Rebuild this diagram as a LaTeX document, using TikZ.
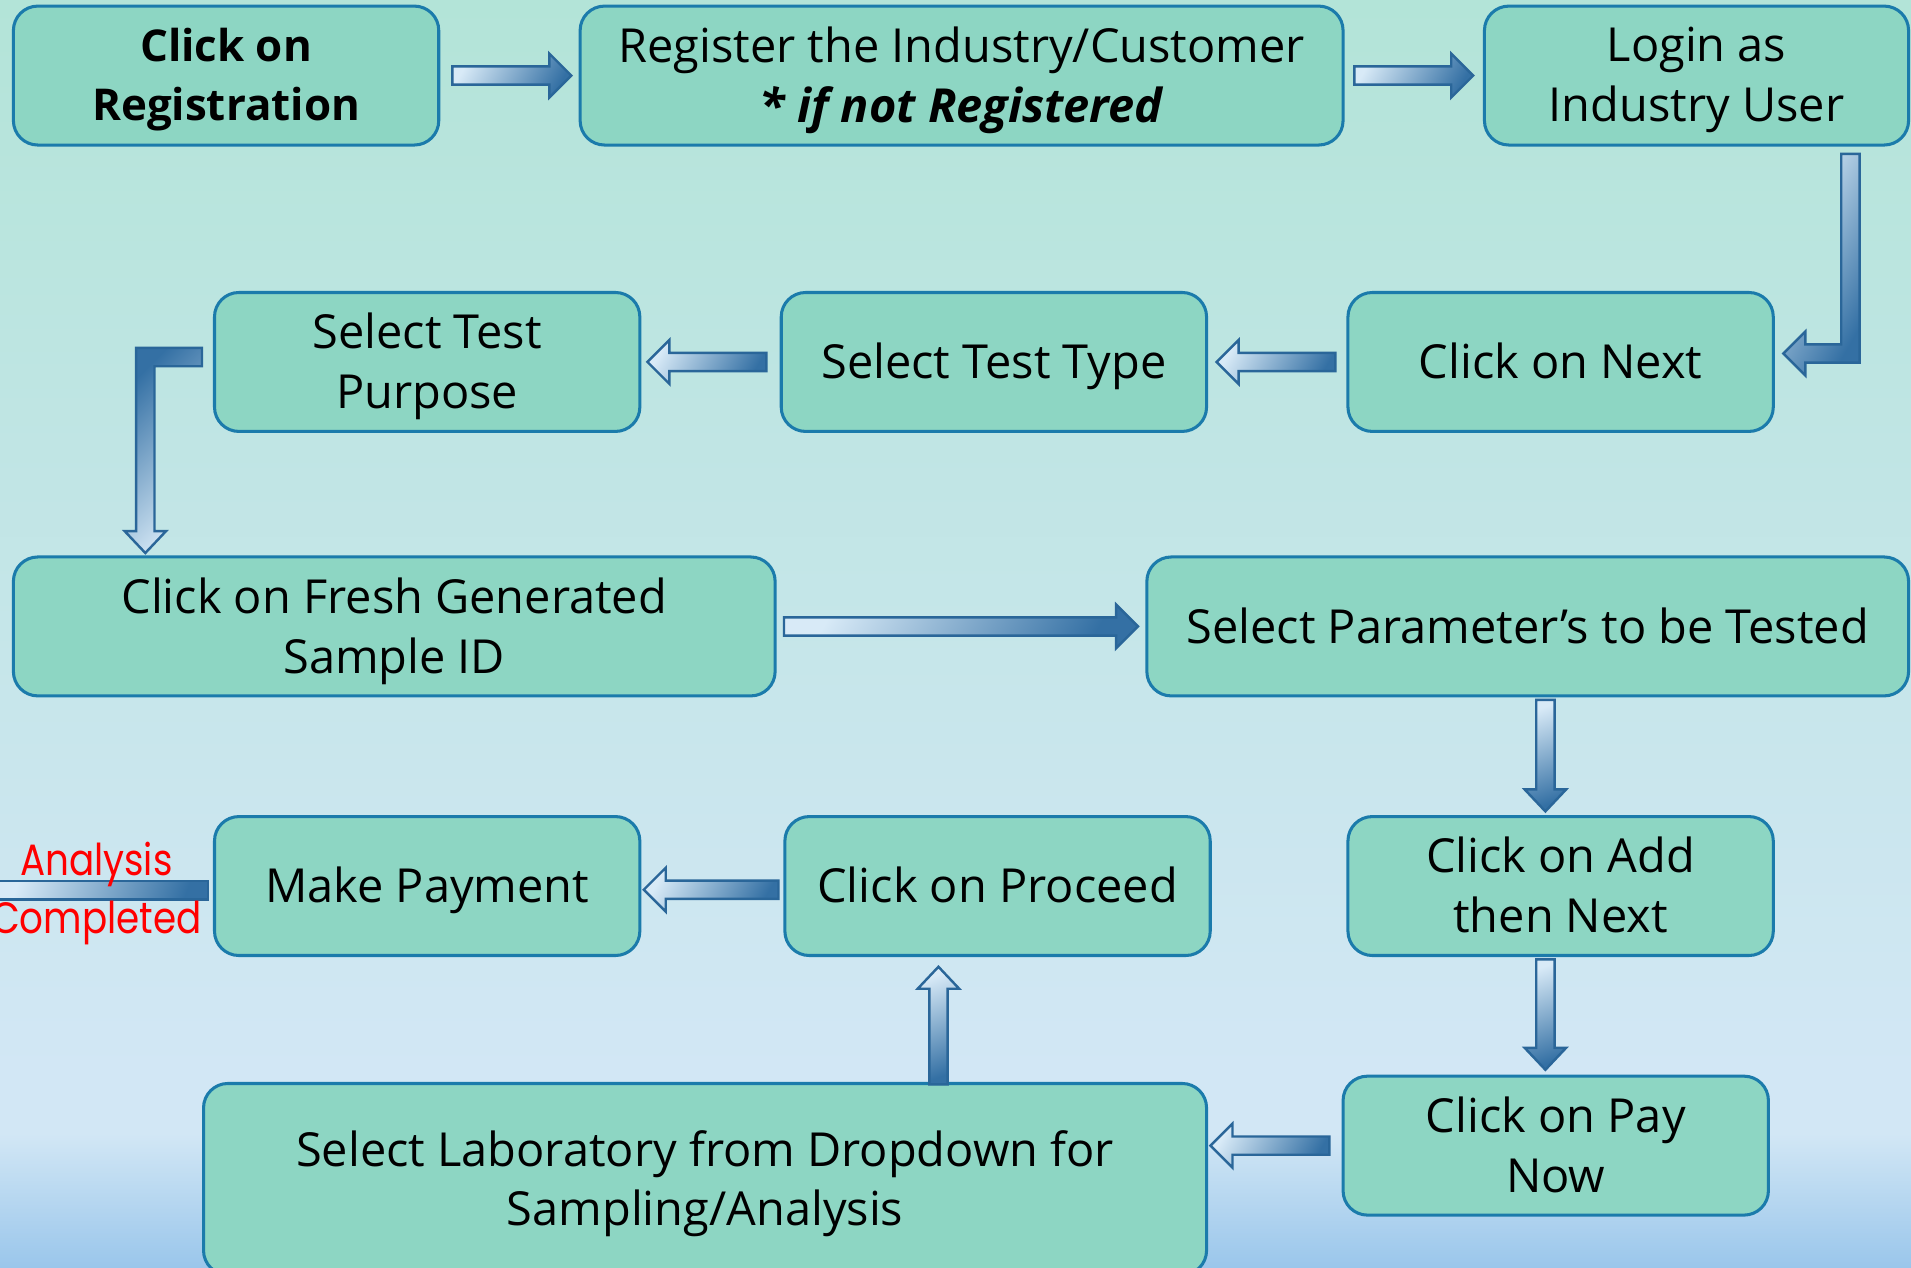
\documentclass[tikz,border=0pt]{standalone}
\usepackage{fontspec}
\setmainfont{Open Sans}
\newfontfamily\donefont{Poppins}[FakeStretch=0.85]
\usetikzlibrary{calc,positioning}

\definecolor{bgtop}{HTML}{B3E4D8}
\definecolor{bgmid}{HTML}{D2E7F5}
\definecolor{bgbot}{HTML}{9AC6EB}
\definecolor{boxfill}{HTML}{8DD6C3}
\definecolor{boxline}{HTML}{1B7BAB}
\definecolor{arrowlight}{HTML}{D8EAF7}
\definecolor{arrowdark}{HTML}{3470A4}
\definecolor{arrowline}{HTML}{2A6699}

\tikzset{
    stepbox/.style={draw=boxline, line width=2.5pt, fill=boxfill, rounded corners=20pt,
        align=center, inner sep=0pt, minimum width=349pt, minimum height=114pt,
        text depth=1.8pt, font=\fontsize{38.5}{49}\selectfont},
    blockarrow/.style={draw=arrowline, line width=2pt, top color=arrowlight, bottom color=arrowdark},
    donetext/.style={align=center, text=red, font=\donefont\fontsize{36}{48}\selectfont},
}

%% block arrows: #1 shading angle, #2 start, #3 tip
\newcommand{\rightblock}[3]{\path[blockarrow, shading angle=#1] let \p1=(#2), \p2=(#3) in
    (\x1,\y1+7.5pt) -- (\x2-18pt,\y1+7.5pt) -- (\x2-18pt,\y1+18pt) -- (\x2,\y1)
    -- (\x2-18pt,\y1-18pt) -- (\x2-18pt,\y1-7.5pt) -- (\x1,\y1-7.5pt) -- cycle;}
\newcommand{\leftblock}[3]{\path[blockarrow, shading angle=#1] let \p1=(#2), \p2=(#3) in
    (\x1,\y1+7.5pt) -- (\x2+18pt,\y1+7.5pt) -- (\x2+18pt,\y1+18pt) -- (\x2,\y1)
    -- (\x2+18pt,\y1-18pt) -- (\x2+18pt,\y1-7.5pt) -- (\x1,\y1-7.5pt) -- cycle;}
\newcommand{\downblock}[3]{\path[blockarrow, shading angle=#1] let \p1=(#2), \p2=(#3) in
    (\x1-7.5pt,\y1) -- (\x1-7.5pt,\y2+18pt) -- (\x1-17pt,\y2+18pt) -- (\x1,\y2)
    -- (\x1+17pt,\y2+18pt) -- (\x1+7.5pt,\y2+18pt) -- (\x1+7.5pt,\y1) -- cycle;}
\newcommand{\upblock}[3]{\path[blockarrow, shading angle=#1] let \p1=(#2), \p2=(#3) in
    (\x1-7.5pt,\y1) -- (\x1-7.5pt,\y2-18pt) -- (\x1-17pt,\y2-18pt) -- (\x1,\y2)
    -- (\x1+17pt,\y2-18pt) -- (\x1+7.5pt,\y2-18pt) -- (\x1+7.5pt,\y1) -- cycle;}

\begin{document}
\begin{tikzpicture}[x=1pt, y=-1pt]
    \useasboundingbox (0,0) rectangle (1568,1040);
    %% background
    \shade[top color=bgtop, bottom color=bgmid] (0,0) rectangle (1568,880);
    \fill[bgmid] (0,879) rectangle (1568,931);
    \shade[top color=bgmid, bottom color=bgbot] (0,930) rectangle (1568,1040);

    %% Row 1
    \node[stepbox, font=\bfseries\fontsize{36}{48}\selectfont] (reg) at (185.5,62) {Click on\\Registration};
    \node[stepbox, minimum width=626pt] (industry) at (789,62) {Register the Industry/Customer\\\textbf{\itshape * if not Registered}};
    \node[stepbox, minimum width=348pt] (login) at (1392,62) {Login as\\Industry User};
    %% Row 2
    \node[stepbox] (next) at (1280.5,297) {Click on Next};
    \node[stepbox] (testtype) at (815.5,297) {Select Test Type};
    \node[stepbox] (purpose) at (350.5,297) {Select Test\\Purpose};
    %% Row 3
    \node[stepbox, minimum width=625pt] (sample) at (323.5,514) {Click on Fresh Generated\\Sample ID};
    \node[stepbox, minimum width=625pt] (params) at (1253.5,514) {Select Parameter’s to be Tested};
    %% Row 4
    \node[stepbox] (addnext) at (1280.5,727) {Click on Add\\then Next};
    \node[stepbox] (proceed) at (818.5,727) {Click on Proceed};
    \node[stepbox] (payment) at (350.5,727) {Make Payment};
    %% Row 5
    \node[stepbox] (paynow) at (1276.5,940) {Click on Pay\\Now};
    \node[stepbox, minimum width=823pt, minimum height=157pt] (lab) at (578.5,967.5) {Select Laboratory from Dropdown for\\Sampling/Analysis};

    %% Connectors
    \rightblock{60}{$(reg.east)+(10,0)$}{$(industry.west)+(-6,0)$}
    \rightblock{60}{$(industry.east)+(8,0)$}{$(login.west)+(-8,0)$}
    \path[blockarrow, shading angle=60] let \p1=($(login.south east)+(-49,6)$), \p2=($(next.east)+(7,-7)$) in
        (\x1-7.5pt,\y1) -- (\x1+7.5pt,\y1) -- (\x1+7.5pt,\y2-7.5pt) -- (\x2+18pt,\y2-7.5pt)
        -- (\x2+18pt,\y2-18pt) -- (\x2,\y2) -- (\x2+18pt,\y2+18pt) -- (\x2+18pt,\y2+7.5pt)
        -- (\x1-7.5pt,\y2+7.5pt) -- cycle;
    \leftblock{60}{$(next.west)+(-9,0)$}{$(testtype.east)+(7,0)$}
    \leftblock{60}{$(testtype.west)+(-11,0)$}{$(purpose.east)+(5,0)$}
    \path[blockarrow, shading angle=-135] let \p1=($(purpose.west)+(-9,-4)$), \p2=($(sample.north west)+(109.5,-2)$) in
        (\x1,\y1+7.5pt) -- (\x2-7.5pt,\y1+7.5pt) -- (\x2-7.5pt,\y2+18pt) -- (\x2-17pt,\y2+18pt)
        -- (\x2,\y2) -- (\x2+17pt,\y2+18pt) -- (\x2+7.5pt,\y2+18pt) -- (\x2+7.5pt,\y1-7.5pt)
        -- (\x1,\y1-7.5pt) -- cycle;
    \rightblock{60}{$(sample.east)+(6,0)$}{$(params.west)+(-6,0)$}
    \downblock{20}{$(params.south)+(14.5,2)$}{$(addnext.north)+(-12.5,-3)$}
    \downblock{20}{$(addnext.south)+(-12.5,2)$}{$(paynow.north)+(-8.5,-4)$}
    \leftblock{60}{$(paynow.west)+(-10,0)$}{$(lab.east)+(2,0)$}
    \upblock{20}{$(lab.north)+(191.5,2)$}{$(proceed.south)+(-48.5,8)$}
    \leftblock{60}{$(proceed.west)+(-4,3)$}{$(payment.east)+(2,3)$}

    %% finished
    \coordinate (done) at (-5,730.5);
    \path[blockarrow, shading angle=70] let \p1=($(payment.west)+(-4,3.5)$), \p2=(done) in
        (\x1,\y1+7.5pt) rectangle (\x2,\y1-7.5pt);
    \node[donetext] (donelabel) at (79,733) {Analysis\\Completed};
\end{tikzpicture}
\end{document}
